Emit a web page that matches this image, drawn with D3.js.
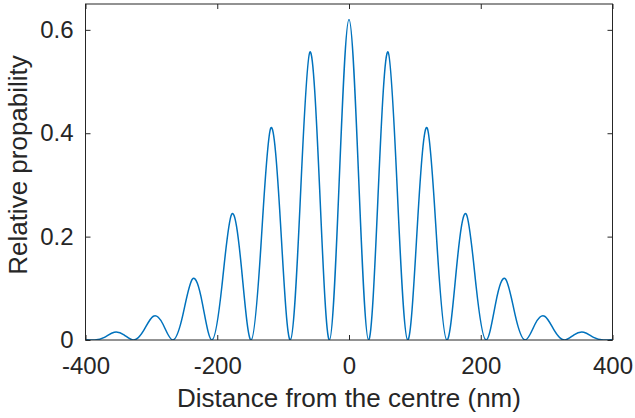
<!DOCTYPE html>
<html>
<head>
<meta charset="utf-8">
<script src="https://cdn.jsdelivr.net/npm/d3@7"></script>
<style>
	body { margin: 0; background: #fff; }
	text { font-family: "Liberation Sans", Arial, sans-serif; fill: #262626; }
</style>
</head>
<body>
<script>
'use strict';

// distance from the centre (nm): fringe peaks, zeros and half-height points
const distance = [
	-400.95, -386.1, -371.25, -356.4, -341.55, -326.7, -311.85, -297, -282.15,
	-267.3, -252.45, -237.6, -222.75, -207.9, -193.05, -178.2, -163.35, -148.5,
	-133.65, -118.8, -103.95, -89.1, -74.25, -59.4, -44.55, -29.7, -14.85,
	0,
	14.85, 29.7, 44.55, 59.4, 74.25, 89.1, 103.95, 118.8, 133.65,
	148.5, 163.35, 178.2, 193.05, 207.9, 222.75, 237.6, 252.45, 267.3,
	282.15, 297, 311.85, 326.7, 341.55, 356.4, 371.25, 386.1, 400.95
];

const probability = [
	0.001, 0, 0.005, 0.015, 0.010, 0, 0.018, 0.046, 0.030,
	0, 0.047, 0.118, 0.072, 0, 0.103, 0.243, 0.141, 0,
	0.183, 0.41, 0.225, 0, 0.263, 0.557, 0.292, 0, 0.308,
	0.62,
	0.308, 0, 0.292, 0.557, 0.263, 0, 0.225, 0.41, 0.183,
	0, 0.141, 0.243, 0.103, 0, 0.072, 0.118, 0.047, 0,
	0.030, 0.046, 0.018, 0, 0.010, 0.015, 0.005, 0, 0.001
];

const xTicks = [-400, -200, 0, 200, 400];
const yTicks = [0, 0.2, 0.4, 0.6];

const params = {
	width: 635,
	height: 418,
	left: 85.5,
	right: 612.5,
	top: 4,
	bottom: 340
};

const svg = d3.select("body")
	.append("svg")
	.attr("width", params.width)
	.attr("height", params.height);

const xScale = d3.scaleLinear()
	.domain([-400, 400])
	.range([params.left, params.right]);

const yScale = d3.scaleLinear()
	.domain([0, 0.65])
	.range([params.bottom, params.top]);

svg.append("clipPath")
	.attr("id", "plotClip")
	.append("rect")
	.attr("x", params.left)
	.attr("y", params.top)
	.attr("width", params.right - params.left)
	.attr("height", params.bottom - params.top);

// the curve
const line = d3.line()
	.x(d => xScale(d[0]))
	.y(d => yScale(d[1]))
	.curve(d3.curveNatural);

svg.append("path")
	.datum(d3.zip(distance, probability))
	.attr("clip-path", "url(#plotClip)")
	.attr("fill", "none")
	.attr("stroke", "#0072BD")
	.attr("stroke-width", 1.5)
	.attr("d", line);

// box axes, ticks pointing inward on all four sides
const tickLen = 5;
const styleAxis = g => {
	g.select(".domain").remove();
	g.selectAll(".tick line").attr("stroke", "#262626");
	g.selectAll(".tick text")
		.style("font-size", "24px")
		.attr("fill", "#262626");
};

svg.append("g")
	.attr("transform", `translate(0,${params.bottom})`)
	.call(d3.axisBottom(xScale).tickValues(xTicks).tickFormat(d => String(d))
		.tickSizeInner(-tickLen).tickPadding(tickLen + 12))
	.call(styleAxis);

svg.append("g")
	.attr("transform", `translate(0,${params.top})`)
	.call(d3.axisTop(xScale).tickValues(xTicks).tickFormat("")
		.tickSizeInner(-tickLen))
	.call(styleAxis);

svg.append("g")
	.attr("transform", `translate(${params.left},0)`)
	.call(d3.axisLeft(yScale).tickValues(yTicks).tickFormat(d => String(d))
		.tickSizeInner(-tickLen).tickPadding(tickLen + 7))
	.call(styleAxis);

svg.append("g")
	.attr("transform", `translate(${params.right},0)`)
	.call(d3.axisRight(yScale).tickValues(yTicks).tickFormat("")
		.tickSizeInner(-tickLen))
	.call(styleAxis);

svg.append("rect")
	.attr("x", params.left)
	.attr("y", params.top)
	.attr("width", params.right - params.left)
	.attr("height", params.bottom - params.top)
	.attr("fill", "none")
	.attr("stroke", "#262626")
	.attr("stroke-width", 1);

// axis labels
svg.append("text")
	.attr("x", (params.left + params.right) / 2)
	.attr("y", 406.5)
	.attr("text-anchor", "middle")
	.style("font-size", "26px")
	.text("Distance from the centre (nm)");

svg.append("text")
	.attr("transform", "translate(27,165) rotate(-90)")
	.attr("text-anchor", "middle")
	.style("font-size", "26px")
	.text("Relative propability");
</script>
</body>
</html>
